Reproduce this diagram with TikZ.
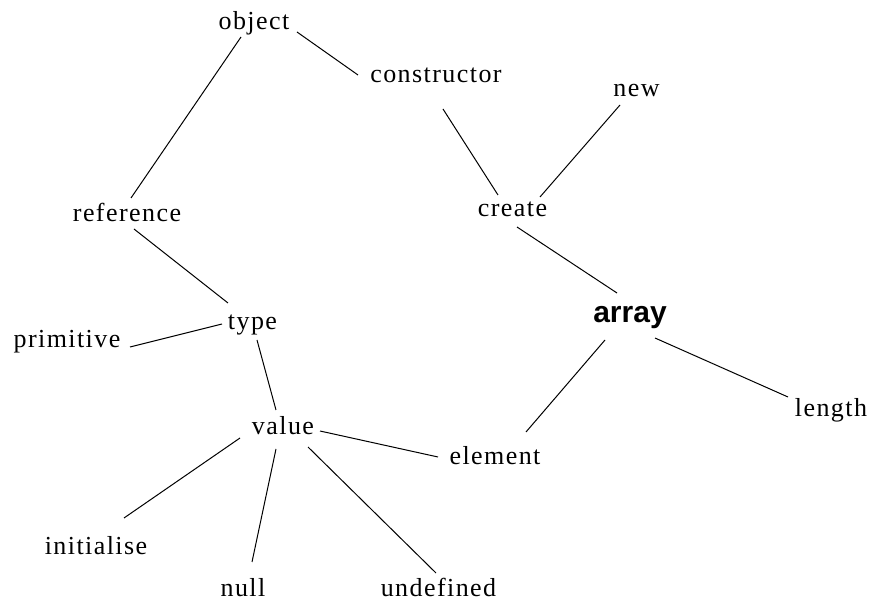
\documentclass[tikz,border=0pt]{standalone}
\usepackage{fontspec}
\setmainfont{Liberation Serif}[LetterSpace=5.5]
\newfontfamily\keyfont{Liberation Sans}
\begin{document}
\begin{tikzpicture}[x=0.75pt, y=-0.75pt,
  term/.style={anchor=base, inner sep=0pt, text=black,
    font=\fontsize{19.5pt}{23pt}\selectfont},
  keyterm/.style={anchor=base, inner sep=0pt, text=black,
    font=\keyfont\bfseries\fontsize{22.5pt}{26pt}\selectfont},
  link/.style={draw=black, line width=0.75pt}]

  % canvas
  \fill[white] (0,0) rectangle (869,602);
  \useasboundingbox (0,0) rectangle (869,602);

  % concepts (placed at their baselines)
  \node[term]    (object)      at (254,30)    {object};
  \node[term]    (constructor) at (436,83)    {constructor};
  \node[term]    (new)         at (636.5,97)  {new};
  \node[term]    (create)      at (512.5,217) {create};
  \node[term]    (reference)   at (127,222)   {reference};
  \node[keyterm] (array)       at (630,323)   {array};
  \node[term]    (type)        at (252.5,330) {type};
  \node[term]    (primitive)   at (67,348)    {primitive};
  \node[term]    (length)      at (831,417)   {length};
  \node[term]    (value)       at (283,435)   {value};
  \node[term]    (element)     at (495,465)   {element};
  \node[term]    (initialise)  at (96,555)    {initialise};
  \node[term]    (null)        at (243,597)   {null};
  \node[term]    (undefined)   at (438.5,597) {undefined};

  % links between concepts
  \draw[link] ([shift={(43,2)}]object.base)      -- ([shift={(-78,-8)}]constructor.base);
  \draw[link] ([shift={(-13,7)}]object.base)     -- ([shift={(4,-24)}]reference.base);
  \draw[link] ([shift={(7,26)}]constructor.base) -- ([shift={(-14.5,-22)}]create.base);
  \draw[link] ([shift={(-16.5,8)}]new.base)      -- ([shift={(27.5,-20)}]create.base);
  \draw[link] ([shift={(7,7)}]reference.base)    -- ([shift={(-24.5,-27)}]type.base);
  \draw[link] ([shift={(4.5,10)}]create.base)    -- ([shift={(-13,-30)}]array.base);
  \draw[link] ([shift={(63,-1)}]primitive.base)  -- ([shift={(-30.5,-6)}]type.base);
  \draw[link] ([shift={(4.5,10)}]type.base)      -- ([shift={(-7,-25)}]value.base);
  \draw[link] ([shift={(-25,17)}]array.base)     -- ([shift={(31,-33)}]element.base);
  \draw[link] ([shift={(25,15)}]array.base)      -- ([shift={(-43,-20)}]length.base);
  \draw[link] ([shift={(37,-4)}]value.base)      -- ([shift={(-57,-8)}]element.base);
  \draw[link] ([shift={(-43,3)}]value.base)      -- ([shift={(28,-37)}]initialise.base);
  \draw[link] ([shift={(-7,14)}]value.base)      -- ([shift={(9,-35)}]null.base);
  \draw[link] ([shift={(25,12)}]value.base)      -- ([shift={(-2.5,-24)}]undefined.base);
\end{tikzpicture}
\end{document}
